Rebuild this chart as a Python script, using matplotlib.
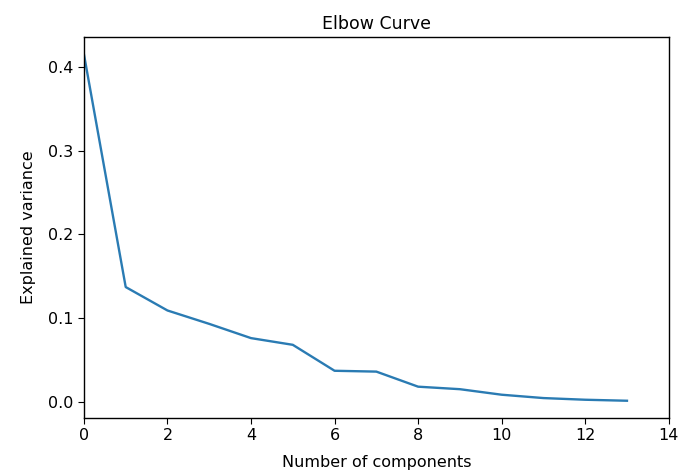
import matplotlib
matplotlib.use("Agg")
import matplotlib.pyplot as plt

# explained variance per component
components = list(range(14))
explained_variance = [0.415, 0.137, 0.109, 0.093, 0.076, 0.068, 0.037,
                      0.036, 0.018, 0.015, 0.0084, 0.0044, 0.0024, 0.0012]

plt.rcParams['font.size'] = 11.5
plt.rcParams['axes.linewidth'] = 1.0

fig = plt.figure(figsize=(6.88, 4.74), dpi=100)
ax = fig.add_axes([0.122, 0.118, 0.85, 0.804])
ax.plot(components, explained_variance, color='#2a7bb3', linewidth=1.7)
ax.set_xlim(0, 14)
ax.tick_params(length=4)
ax.set_title("Elbow Curve", fontsize=12.5)
ax.set_xlabel("Number of components", labelpad=8)
ax.set_ylabel("Explained variance", labelpad=9)

fig.savefig("out.png", dpi=100)
